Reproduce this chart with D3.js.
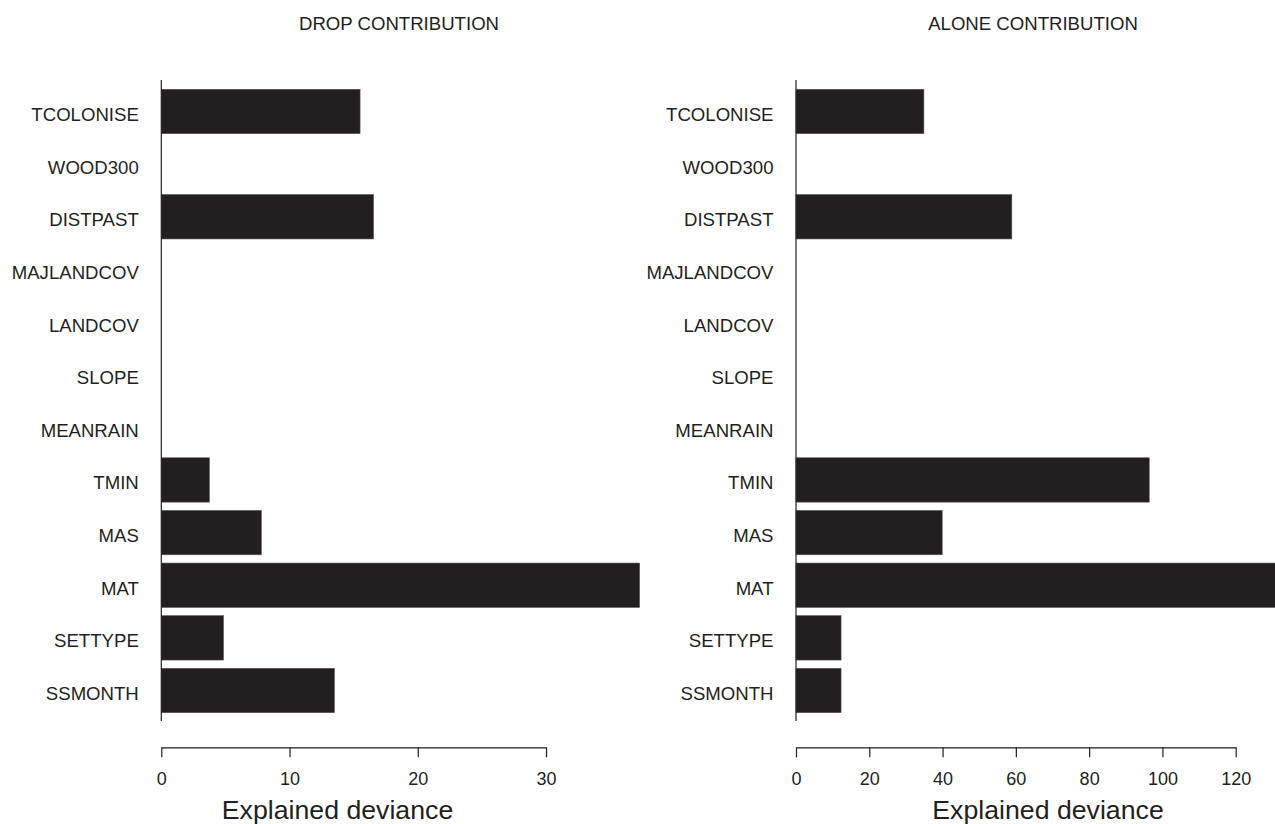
<!DOCTYPE html>
<html>
<head>
<meta charset="utf-8">
<script src="https://cdn.jsdelivr.net/npm/d3@7"></script>
<style>
  html, body { margin: 0; padding: 0; background: #fff; }
  svg { display: block; }
  text { font-family: "Liberation Sans", Arial, Helvetica, sans-serif; fill: #231f20; }
</style>
</head>
<body>
<svg id="chart" width="1275" height="824"></svg>
<script>
// ---- data ----
const categories = ["TCOLONISE", "WOOD300", "DISTPAST", "MAJLANDCOV", "LANDCOV", "SLOPE",
                    "MEANRAIN", "TMIN", "MAS", "MAT", "SETTYPE", "SSMONTH"];
const dropValues  = [15.5, 0, 16.55, 0, 0, 0, 0, 3.75, 7.8, 37.3, 4.85, 13.5];
const aloneValues = [34.9, 0, 58.9, 0, 0, 0, 0, 96.4, 39.9, 136, 12.3, 12.3];
const dropTicks  = [0, 10, 20, 30];
const aloneTicks = [0, 20, 40, 60, 80, 100, 120];
const panelTitles = ["DROP CONTRIBUTION", "ALONE CONTRIBUTION"];
const xLabel = "Explained deviance";

// ---- layout ----
const svg = d3.select("#chart");
const ink = "#231f20";

const y = d3.scaleBand()
  .domain(categories)
  .range([89.3, 712.7])
  .paddingInner(0.157)
  .paddingOuter(0);

const panels = [
  { title: panelTitles[0], values: dropValues, ticks: dropTicks,
    x: d3.scaleLinear().domain([0, 30]).range([161.3, 546]),
    titleX: 399, labelX: 337.5 },
  { title: panelTitles[1], values: aloneValues, ticks: aloneTicks,
    x: d3.scaleLinear().domain([0, 120]).range([796, 1235.7]),
    titleX: 1033, labelX: 1048 }
];

panels.forEach(p => {
  const g = svg.append("g");
  const x0 = p.x(0);

  // bars
  g.selectAll("rect.bar")
    .data(categories.map((c, i) => ({ c, v: p.values[i] })).filter(d => d.v > 0))
    .join("rect")
    .attr("class", "bar")
    .attr("x", x0)
    .attr("y", d => y(d.c))
    .attr("width", d => p.x(d.v) - x0)
    .attr("height", y.bandwidth())
    .attr("fill", ink)
    .attr("stroke", "#555")
    .attr("stroke-width", 0.6);

  // vertical axis line
  g.append("line")
    .attr("x1", x0).attr("x2", x0)
    .attr("y1", 80).attr("y2", 721)
    .attr("stroke", ink).attr("stroke-width", 1.2);

  // category labels
  g.selectAll("text.cat")
    .data(categories)
    .join("text")
    .attr("class", "cat")
    .attr("x", x0 - 22.5)
    .attr("y", d => y(d) + y.bandwidth() / 2 + 9.5)
    .attr("text-anchor", "end")
    .attr("font-size", 18.6)
    .text(d => d);

  // x axis
  const ax = g.append("g")
    .attr("transform", "translate(0,747.3)")
    .call(d3.axisBottom(p.x).tickValues(p.ticks).tickSize(10).tickSizeOuter(0).tickPadding(15));
  ax.select(".domain").attr("stroke", ink).attr("stroke-width", 1.2);
  ax.selectAll(".tick line").attr("stroke", ink).attr("stroke-width", 1.2);
  ax.selectAll(".tick text")
    .attr("font-size", 18)
    .attr("font-family", "Liberation Sans, Arial, sans-serif")
    .attr("fill", ink);

  // axis title
  g.append("text")
    .attr("x", p.labelX).attr("y", 819)
    .attr("text-anchor", "middle")
    .attr("font-size", 26.7)
    .text(xLabel);

  // panel title
  g.append("text")
    .attr("x", p.titleX).attr("y", 30)
    .attr("text-anchor", "middle")
    .attr("font-size", 18.6)
    .text(p.title);
});
</script>
</body>
</html>
